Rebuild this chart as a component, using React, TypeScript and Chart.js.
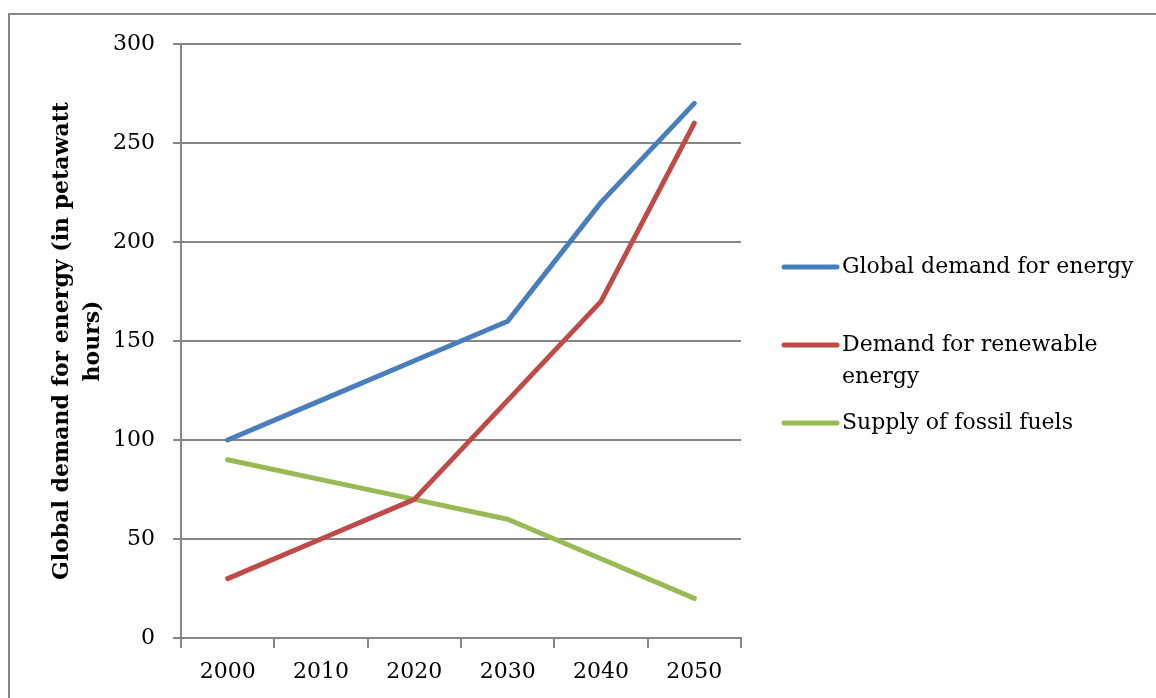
import React, { useEffect, useRef } from "react";
import { Chart, registerables } from "chart.js";

Chart.register(...registerables);

const years = ["2000", "2010", "2020", "2030", "2040", "2050"];
const globalDemand = [100, 120, 140, 160, 220, 270];
const renewableDemand = [30, 50, 70, 120, 170, 260];
const fossilSupply = [90, 80, 70, 60, 40, 20];
const seriesLabels = [
  "Global demand for energy",
  "Demand for renewable energy",
  "Supply of fossil fuels",
];
const seriesColors = ["#4A7EBB", "#BE4B48", "#98B954"];
const yTitle = ["Global demand for energy (in petawatt", "hours)"];
const yMin = 0;
const yMax = 300;
const yStep = 50;

const FONT = "'DejaVu Serif', 'Liberation Serif', serif";
const GRID = "#868686";

const sideLegend = {
  id: "sideLegend",
  afterDraw(chart: any) {
    const ctx = chart.ctx as CanvasRenderingContext2D;
    ctx.save();
    ctx.font = `22px ${FONT}`;
    ctx.textBaseline = "middle";
    ctx.textAlign = "left";
    const x0 = 784;
    const x1 = 837;
    const tx = 842;
    const maxW = chart.width - tx - 6;
    chart.data.datasets.forEach((ds: any, i: number) => {
      const y = 267 + i * 78;
      ctx.strokeStyle = ds.borderColor;
      ctx.lineWidth = 5;
      ctx.lineCap = "round";
      ctx.beginPath();
      ctx.moveTo(x0, y);
      ctx.lineTo(x1, y);
      ctx.stroke();
      const words = String(ds.label).split(" ");
      const lines: string[] = [];
      let cur = "";
      words.forEach((w) => {
        const test = cur ? cur + " " + w : w;
        if (cur && ctx.measureText(test).width > maxW) {
          lines.push(cur);
          cur = w;
        } else {
          cur = test;
        }
      });
      if (cur) lines.push(cur);
      ctx.fillStyle = "#000";
      lines.forEach((ln, j) => ctx.fillText(ln, tx, y + j * 32));
    });
    ctx.restore();
  },
};

export default function App() {
  const ref = useRef<HTMLCanvasElement | null>(null);

  useEffect(() => {
    if (!ref.current) return;
    const chart = new Chart(ref.current, {
      type: "line",
      data: {
        labels: years,
        datasets: [globalDemand, renewableDemand, fossilSupply].map((d, i) => ({
          label: seriesLabels[i],
          data: d,
          borderColor: seriesColors[i],
          backgroundColor: seriesColors[i],
          borderWidth: 5,
          borderCapStyle: "round" as const,
          borderJoinStyle: "round" as const,
          pointRadius: 0,
          pointHoverRadius: 0,
          tension: 0,
          fill: false,
        })),
      },
      options: {
        animation: false,
        responsive: true,
        maintainAspectRatio: false,
        layout: { padding: { left: 40, top: 44, right: 415, bottom: 0 } },
        plugins: {
          legend: { display: false },
          tooltip: { enabled: false },
        },
        scales: {
          x: {
            type: "category",
            offset: true,
            grid: {
              offset: true,
              drawOnChartArea: false,
              drawTicks: true,
              tickLength: 10,
              color: GRID,
              lineWidth: 2,
            },
            border: { display: true, color: GRID, width: 2 },
            ticks: {
              color: "#000",
              font: { family: FONT, size: 22 },
              padding: 11,
              maxRotation: 0,
            },
            afterFit(scale: any) {
              scale.height = 60;
            },
          },
          y: {
            min: yMin,
            max: yMax,
            ticks: {
              stepSize: yStep,
              color: "#000",
              font: { family: FONT, size: 22 },
              padding: 18,
            },
            grid: {
              color: GRID,
              lineWidth: 2,
              drawTicks: true,
              tickLength: 8,
            },
            border: { display: true, color: GRID, width: 2 },
            title: {
              display: true,
              text: yTitle,
              color: "#000",
              font: { family: FONT, size: 22, weight: "bold", lineHeight: 1.4 },
              padding: { top: 7, bottom: 0 },
            },
            afterFit(scale: any) {
              scale.width = 141;
            },
          },
        },
      },
      plugins: [sideLegend],
    });
    return () => chart.destroy();
  }, []);

  return (
    <div
      style={{
        position: "fixed",
        left: 0,
        top: 0,
        width: 1156,
        height: 698,
        overflow: "hidden",
        background: "#fff",
      }}
    >
      <div
        style={{
          position: "absolute",
          left: 8,
          top: 13,
          width: 1200,
          height: 800,
          borderTop: `2px solid ${GRID}`,
          borderLeft: `2px solid ${GRID}`,
        }}
      />
      <div style={{ position: "absolute", left: 0, top: 0, width: 1156, height: 698 }}>
        <canvas ref={ref} />
      </div>
    </div>
  );
}
